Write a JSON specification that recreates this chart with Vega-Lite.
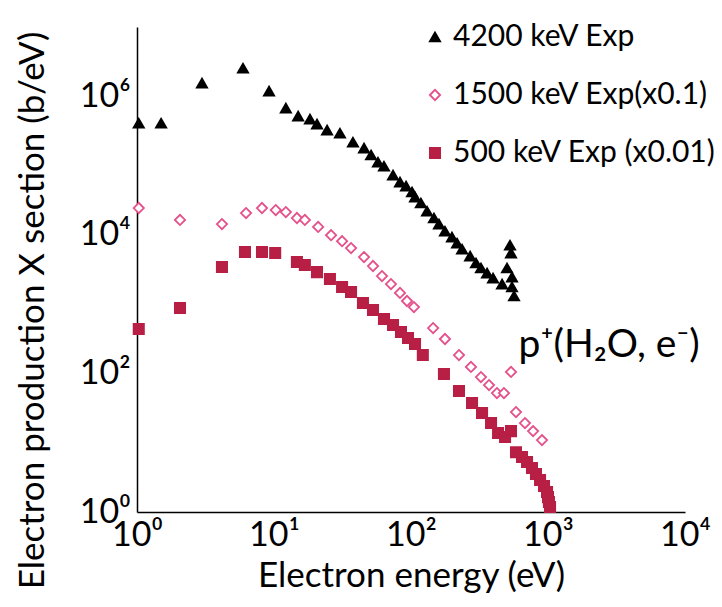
{
  "$schema": "https://vega.github.io/schema/vega-lite/v6.json",
  "width": 548,
  "height": 485,
  "autosize": {"type": "none"},
  "padding": {"left": 137, "top": 27, "right": 37, "bottom": 95},
  "background": "white",
  "config": {
    "view": {"stroke": null},
    "font": "Lato, Noto Sans, DejaVu Sans",
    "axis": {
      "domainColor": "black", "domainWidth": 1.5, "ticks": false, "grid": false,
      "labelFont": "Lato, Noto Sans, DejaVu Sans", "labelFontSize": 34, "labelColor": "black",
      "titleFont": "Lato, Noto Sans, DejaVu Sans", "titleFontSize": 35, "titleColor": "black", "titleFontWeight": "normal",
      "labelFlush": false, "labelOverlap": false
    },
    "legend": {
      "orient": "none", "legendX": 283, "legendY": -5, "title": null, "padding": 0,
      "labelFont": "Lato, Noto Sans, DejaVu Sans", "labelFontSize": 30, "labelColor": "black", "labelLimit": 0,
      "symbolSize": 105, "symbolStrokeWidth": 1.8, "rowPadding": 28, "labelOffset": 3
    }
  },
  "datasets": {
    "pts": [
      {"series": "4200 keV Exp", "E": 1.03, "sigma": 410000},
      {"series": "4200 keV Exp", "E": 1.5, "sigma": 410000},
      {"series": "4200 keV Exp", "E": 2.98, "sigma": 1550000},
      {"series": "4200 keV Exp", "E": 5.94, "sigma": 2550000},
      {"series": "4200 keV Exp", "E": 9.2, "sigma": 1190000},
      {"series": "4200 keV Exp", "E": 12.2, "sigma": 676000},
      {"series": "4200 keV Exp", "E": 15.0, "sigma": 518000},
      {"series": "4200 keV Exp", "E": 18.3, "sigma": 469000},
      {"series": "4200 keV Exp", "E": 20.6, "sigma": 397000},
      {"series": "4200 keV Exp", "E": 24.4, "sigma": 325000},
      {"series": "4200 keV Exp", "E": 30.3, "sigma": 294000},
      {"series": "4200 keV Exp", "E": 37.7, "sigma": 218000},
      {"series": "4200 keV Exp", "E": 45.4, "sigma": 179000},
      {"series": "4200 keV Exp", "E": 51.1, "sigma": 142000},
      {"series": "4200 keV Exp", "E": 57.4, "sigma": 112000},
      {"series": "4200 keV Exp", "E": 63.5, "sigma": 98000},
      {"series": "4200 keV Exp", "E": 73.9, "sigma": 73000},
      {"series": "4200 keV Exp", "E": 83.1, "sigma": 57800},
      {"series": "4200 keV Exp", "E": 92, "sigma": 50600},
      {"series": "4200 keV Exp", "E": 101.7, "sigma": 41500},
      {"series": "4200 keV Exp", "E": 107, "sigma": 35100},
      {"series": "4200 keV Exp", "E": 118, "sigma": 28800},
      {"series": "4200 keV Exp", "E": 131, "sigma": 22000},
      {"series": "4200 keV Exp", "E": 147, "sigma": 17500},
      {"series": "4200 keV Exp", "E": 160, "sigma": 14300},
      {"series": "4200 keV Exp", "E": 177, "sigma": 11300},
      {"series": "4200 keV Exp", "E": 199, "sigma": 9300},
      {"series": "4200 keV Exp", "E": 217, "sigma": 7600},
      {"series": "4200 keV Exp", "E": 236, "sigma": 6200},
      {"series": "4200 keV Exp", "E": 270, "sigma": 4940},
      {"series": "4200 keV Exp", "E": 298, "sigma": 3920},
      {"series": "4200 keV Exp", "E": 324, "sigma": 3320},
      {"series": "4200 keV Exp", "E": 359, "sigma": 2810},
      {"series": "4200 keV Exp", "E": 397, "sigma": 2380},
      {"series": "4200 keV Exp", "E": 462, "sigma": 1950},
      {"series": "4200 keV Exp", "E": 502, "sigma": 3320},
      {"series": "4200 keV Exp", "E": 528, "sigma": 7100},
      {"series": "4200 keV Exp", "E": 537, "sigma": 5460},
      {"series": "4200 keV Exp", "E": 546, "sigma": 2460},
      {"series": "4200 keV Exp", "E": 546, "sigma": 1770},
      {"series": "4200 keV Exp", "E": 565, "sigma": 1310},
      {"series": "1500 keV Exp(x0.1)", "E": 1.03, "sigma": 24400},
      {"series": "1500 keV Exp(x0.1)", "E": 2.06, "sigma": 16400},
      {"series": "1500 keV Exp(x0.1)", "E": 4.17, "sigma": 14300},
      {"series": "1500 keV Exp(x0.1)", "E": 6.25, "sigma": 20600},
      {"series": "1500 keV Exp(x0.1)", "E": 8.17, "sigma": 24400},
      {"series": "1500 keV Exp(x0.1)", "E": 10.3, "sigma": 22800},
      {"series": "1500 keV Exp(x0.1)", "E": 12.2, "sigma": 21300},
      {"series": "1500 keV Exp(x0.1)", "E": 14.7, "sigma": 17500},
      {"series": "1500 keV Exp(x0.1)", "E": 16.8, "sigma": 16400},
      {"series": "1500 keV Exp(x0.1)", "E": 21.0, "sigma": 13000},
      {"series": "1500 keV Exp(x0.1)", "E": 26.1, "sigma": 9900},
      {"series": "1500 keV Exp(x0.1)", "E": 31.4, "sigma": 8100},
      {"series": "1500 keV Exp(x0.1)", "E": 36.5, "sigma": 6450},
      {"series": "1500 keV Exp(x0.1)", "E": 45.4, "sigma": 4780},
      {"series": "1500 keV Exp(x0.1)", "E": 52.8, "sigma": 3550},
      {"series": "1500 keV Exp(x0.1)", "E": 61.4, "sigma": 2540},
      {"series": "1500 keV Exp(x0.1)", "E": 71.4, "sigma": 1950},
      {"series": "1500 keV Exp(x0.1)", "E": 83.1, "sigma": 1450},
      {"series": "1500 keV Exp(x0.1)", "E": 93.5, "sigma": 1110},
      {"series": "1500 keV Exp(x0.1)", "E": 105, "sigma": 908},
      {"series": "1500 keV Exp(x0.1)", "E": 145, "sigma": 452},
      {"series": "1500 keV Exp(x0.1)", "E": 177, "sigma": 314},
      {"series": "1500 keV Exp(x0.1)", "E": 224, "sigma": 184},
      {"series": "1500 keV Exp(x0.1)", "E": 274, "sigma": 124},
      {"series": "1500 keV Exp(x0.1)", "E": 324, "sigma": 88.7},
      {"series": "1500 keV Exp(x0.1)", "E": 371, "sigma": 68},
      {"series": "1500 keV Exp(x0.1)", "E": 424, "sigma": 52.1},
      {"series": "1500 keV Exp(x0.1)", "E": 477, "sigma": 52.1},
      {"series": "1500 keV Exp(x0.1)", "E": 537, "sigma": 105},
      {"series": "1500 keV Exp(x0.1)", "E": 584, "sigma": 27.7},
      {"series": "1500 keV Exp(x0.1)", "E": 679, "sigma": 19.2},
      {"series": "1500 keV Exp(x0.1)", "E": 778, "sigma": 14.7},
      {"series": "1500 keV Exp(x0.1)", "E": 904, "sigma": 10.9},
      {"series": "500 keV Exp (x0.01)", "E": 1.03, "sigma": 437},
      {"series": "500 keV Exp (x0.01)", "E": 2.06, "sigma": 879},
      {"series": "500 keV Exp (x0.01)", "E": 4.17, "sigma": 3430},
      {"series": "500 keV Exp (x0.01)", "E": 6.14, "sigma": 5650},
      {"series": "500 keV Exp (x0.01)", "E": 8.17, "sigma": 5650},
      {"series": "500 keV Exp (x0.01)", "E": 10.2, "sigma": 5460},
      {"series": "500 keV Exp (x0.01)", "E": 14.7, "sigma": 4050},
      {"series": "500 keV Exp (x0.01)", "E": 16.8, "sigma": 3670},
      {"series": "500 keV Exp (x0.01)", "E": 20.6, "sigma": 2900},
      {"series": "500 keV Exp (x0.01)", "E": 25.6, "sigma": 2300},
      {"series": "500 keV Exp (x0.01)", "E": 31.4, "sigma": 1770},
      {"series": "500 keV Exp (x0.01)", "E": 36.5, "sigma": 1500},
      {"series": "500 keV Exp (x0.01)", "E": 44.6, "sigma": 1040},
      {"series": "500 keV Exp (x0.01)", "E": 52.8, "sigma": 822},
      {"series": "500 keV Exp (x0.01)", "E": 63.5, "sigma": 609},
      {"series": "500 keV Exp (x0.01)", "E": 73.9, "sigma": 499},
      {"series": "500 keV Exp (x0.01)", "E": 84.5, "sigma": 396},
      {"series": "500 keV Exp (x0.01)", "E": 95.1, "sigma": 324},
      {"series": "500 keV Exp (x0.01)", "E": 107, "sigma": 266},
      {"series": "500 keV Exp (x0.01)", "E": 122, "sigma": 184},
      {"series": "500 keV Exp (x0.01)", "E": 174, "sigma": 98},
      {"series": "500 keV Exp (x0.01)", "E": 224, "sigma": 55.7},
      {"series": "500 keV Exp (x0.01)", "E": 279, "sigma": 37.4},
      {"series": "500 keV Exp (x0.01)", "E": 330, "sigma": 26.8},
      {"series": "500 keV Exp (x0.01)", "E": 384, "sigma": 19.2},
      {"series": "500 keV Exp (x0.01)", "E": 432, "sigma": 13.8},
      {"series": "500 keV Exp (x0.01)", "E": 486, "sigma": 12.1},
      {"series": "500 keV Exp (x0.01)", "E": 537, "sigma": 14.7},
      {"series": "500 keV Exp (x0.01)", "E": 584, "sigma": 7.3},
      {"series": "500 keV Exp (x0.01)", "E": 646, "sigma": 6.2},
      {"series": "500 keV Exp (x0.01)", "E": 703, "sigma": 5.27},
      {"series": "500 keV Exp (x0.01)", "E": 764, "sigma": 4.31},
      {"series": "500 keV Exp (x0.01)", "E": 817, "sigma": 3.53},
      {"series": "500 keV Exp (x0.01)", "E": 875, "sigma": 2.9},
      {"series": "500 keV Exp (x0.01)", "E": 935, "sigma": 2.37},
      {"series": "500 keV Exp (x0.01)", "E": 984, "sigma": 1.94},
      {"series": "500 keV Exp (x0.01)", "E": 1000, "sigma": 1.64},
      {"series": "500 keV Exp (x0.01)", "E": 1016, "sigma": 1.39},
      {"series": "500 keV Exp (x0.01)", "E": 1035, "sigma": 1.18}
    ],
    "note": [
      {"label": "p⁺(H₂O, e⁻)", "E": 610, "sigma": 257}
    ]
  },
  "layer": [
    {
      "data": {"name": "pts"},
      "mark": {"type": "point", "filled": true, "size": 105, "strokeWidth": 1.8, "opacity": 1},
      "encoding": {
        "x": {
          "field": "E", "type": "quantitative",
          "scale": {"type": "log", "domain": [1, 10000], "nice": false},
          "axis": {
            "title": "Electron energy (eV)", "values": [1, 10, 100, 1000, 10000],
            "labelExpr": "'10' + ['⁰','¹','²','³','⁴','⁵','⁶','⁷'][round(log(datum.value)/LN10)]",
            "labelPadding": 6, "titlePadding": 6
          }
        },
        "y": {
          "field": "sigma", "type": "quantitative",
          "scale": {"type": "log", "domain": [1, 10000000], "nice": false},
          "axis": {
            "title": "Electron production X section (b/eV)", "values": [1, 100, 10000, 1000000],
            "labelExpr": "'10' + ['⁰','¹','²','³','⁴','⁵','⁶','⁷'][round(log(datum.value)/LN10)]",
            "labelPadding": 7, "titleX": -105, "titleY": 283, "titleAngle": -90,
            "titleAlign": "center", "titleBaseline": "middle"
          }
        },
        "shape": {
          "field": "series", "type": "nominal",
          "scale": {"domain": ["4200 keV Exp", "1500 keV Exp(x0.1)", "500 keV Exp (x0.01)"], "range": ["triangle-up", "diamond", "square"]}
        },
        "fill": {
          "field": "series", "type": "nominal",
          "scale": {"domain": ["4200 keV Exp", "1500 keV Exp(x0.1)", "500 keV Exp (x0.01)"], "range": ["black", "white", "#b81f45"]}
        },
        "stroke": {
          "field": "series", "type": "nominal",
          "scale": {"domain": ["4200 keV Exp", "1500 keV Exp(x0.1)", "500 keV Exp (x0.01)"], "range": ["black", "#e4508b", "#b81f45"]}
        }
      }
    },
    {
      "mark": {"type": "rule", "color": "black", "strokeWidth": 1.5},
      "encoding": {
        "x": {"datum": 1, "type": "quantitative"},
        "x2": {"datum": 103},
        "y": {"datum": 10000000, "type": "quantitative"}
      }
    },
    {
      "mark": {"type": "rule", "color": "black", "strokeWidth": 1.5},
      "encoding": {
        "x": {"datum": 10000, "type": "quantitative"},
        "y": {"datum": 1, "type": "quantitative"},
        "y2": {"datum": 58000}
      }
    },
    {
      "data": {"name": "note"},
      "mark": {"type": "text", "fontSize": 39, "align": "left", "baseline": "middle", "color": "black", "font": "Lato, Noto Sans, DejaVu Sans"},
      "encoding": {
        "x": {"field": "E", "type": "quantitative"},
        "y": {"field": "sigma", "type": "quantitative"},
        "text": {"field": "label"}
      }
    }
  ]
}
